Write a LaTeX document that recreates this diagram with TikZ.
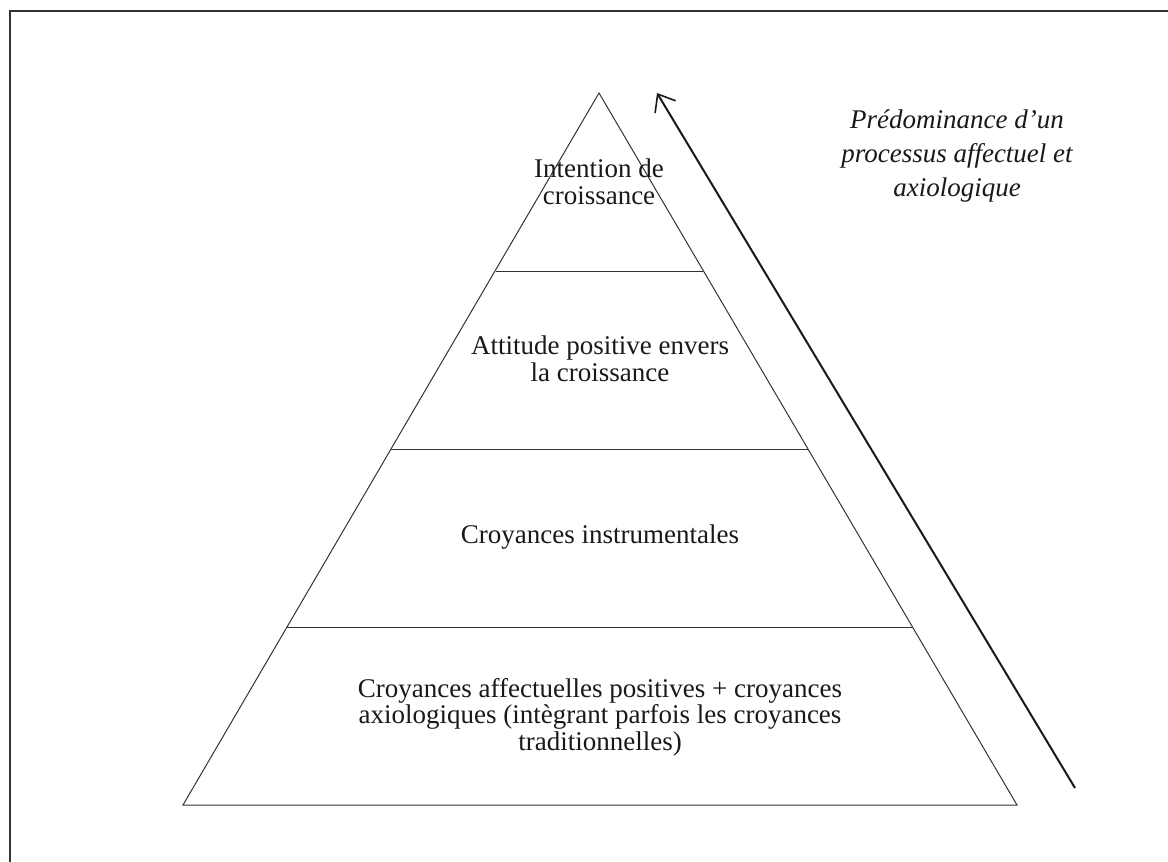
\documentclass[tikz,border=0pt]{standalone}
\usepackage{fontspec}
\setmainfont{Liberation Serif}
\usetikzlibrary{arrows.meta}
\begin{document}
\begin{tikzpicture}[x=0.5pt,y=-0.5pt,
  pyr/.style={draw=black!80,line width=0.5pt},
  lbl/.style={align=center,font=\fontsize{13.5}{13.3}\selectfont,text=black!90,inner sep=0pt},
  side/.style={align=center,font=\fontsize{13.5}{17}\selectfont\itshape,text=black!90,inner sep=0pt},
  frame/.style={draw=black!80,line width=1pt},
  trend/.style={draw=black!90,line width=1pt,-{Straight Barb[length=7.5pt,width=12pt,line width=0.8pt]}}]
\useasboundingbox (0,0) rectangle (1168,862);
\draw[frame] (10,862) -- (10,11) -- (1168,11);
% pyramid
\coordinate (apex) at (599,93);
\coordinate (bl) at (183,805);
\coordinate (br) at (1017,805);
\coordinate (l1) at (496,271); \coordinate (r1) at (703,271);
\coordinate (l2) at (391,449); \coordinate (r2) at (808,449);
\coordinate (l3) at (287,627); \coordinate (r3) at (912,627);
\draw[pyr] (apex) -- (bl) -- (br) -- cycle;
\draw[pyr] (l1) -- (r1);
\draw[pyr] (l2) -- (r2);
\draw[pyr] (l3) -- (r3);
\node[lbl] (t1) at (599,182) {Intention de\\croissance};
\node[lbl] (t2) at (600,359) {Attitude positive envers\\la croissance};
\node[lbl] (t3) at (600,537) {Croyances instrumentales};
\node[lbl] (t4) at (600,717) {Croyances affectuelles positives + croyances\\axiologiques (intègrant parfois les croyances\\traditionnelles)};
\node[side] (side) at (957,156) {Prédominance d’un\\processus affectuel et\\axiologique};
% arrow
\coordinate (as) at (1075,788);
\coordinate (ae) at (657,93);
\draw[trend] (as) -- (ae);
\end{tikzpicture}
\end{document}
